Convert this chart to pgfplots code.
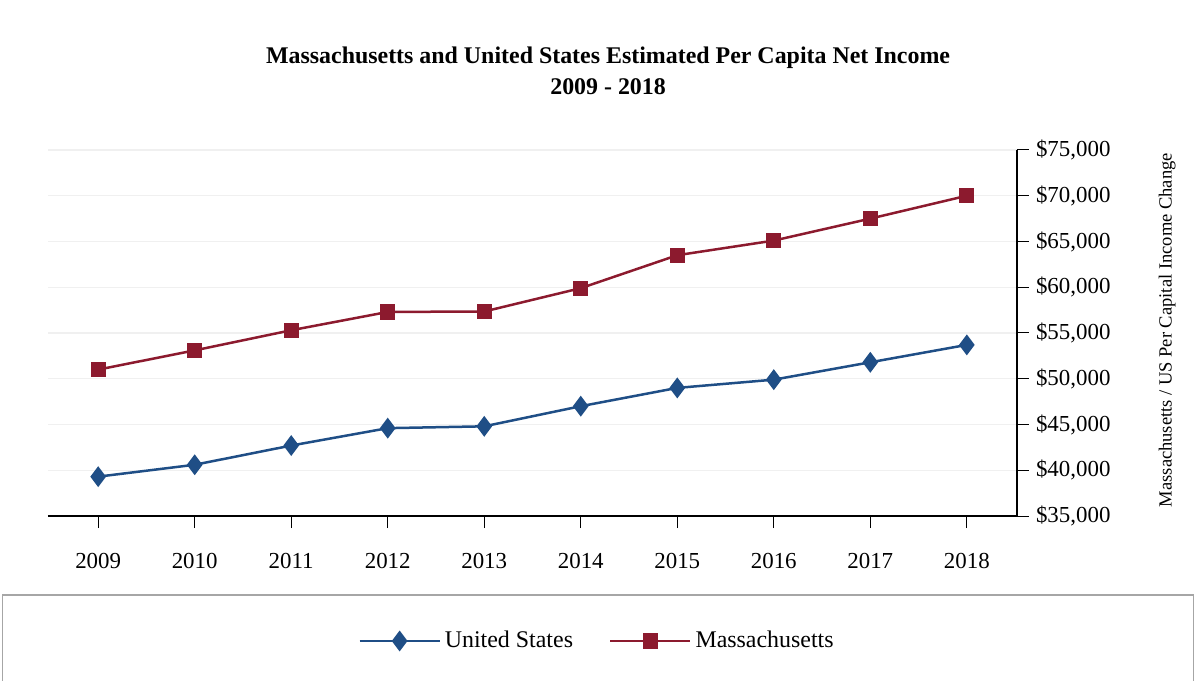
\documentclass[border=0pt]{standalone}
\usepackage{fontspec}
\setmainfont{Liberation Serif}
\usepackage{pgfplots}
\pgfplotsset{compat=1.18}
\usepackage{pgfplotstable}
\definecolor{usblue}{HTML}{1F4E86}
\definecolor{mared}{HTML}{8C1A2E}

% per capita net income
\pgfplotstableread{
year us    ma
2009 39300 51000
2010 40600 53100
2011 42700 55300
2012 44600 57300
2013 44800 57350
2014 47000 59900
2015 49000 63500
2016 49900 65100
2017 51800 67500
2018 53700 70000
}\incometable

\begin{document}
\begin{tikzpicture}
\useasboundingbox (0,0) rectangle (599bp,340.5bp);
\begin{axis}[
    at={(24bp,82.5bp)}, anchor=south west,
    scale only axis, width=484.5bp, height=183bp,
    xmin=2008.48, xmax=2018.52, ymin=35000, ymax=75000,
    xtick={2009,2010,...,2018},
    ytick={35000,40000,...,75000},
    scaled y ticks=false,
    axis x line*=bottom, axis y line*=right,
    x axis line style={-, line width=1.3bp},
    y axis line style={-, line width=0.8bp},
    tick align=outside, major tick length=6bp,
    tick style={black, line width=0.5bp},
    ymajorgrids, grid style={gray!12, line width=0.6bp},
    /pgf/number format/assume math mode=true,
    tick label style={font=\fontsize{11.5}{13}\selectfont},
    x tick label style={/pgf/number format/1000 sep=, yshift=-9bp},
    yticklabel={\$\pgfmathprintnumber{\tick}},
    y tick label style={/pgf/number format/1000 sep={,}},
    title={Massachusetts and United States Estimated Per Capita Net Income\\2009 - 2018},
    title style={at={(axis description cs:0.578,1.184)}, anchor=center, align=center,
        font=\bfseries\fontsize{12}{15.5}\selectfont},
    ylabel={Massachusetts / US Per Capital Income Change},
    ylabel style={at={(axis description cs:1.155,0.508)}, anchor=center,
        font=\fontsize{9.3}{11}\selectfont},
    legend columns=2,
    legend style={at={(axis description cs:0.5676,-0.3415)}, anchor=center,
        draw=gray!70, line width=0.8bp, inner xsep=178bp, inner ysep=16bp,
        font=\fontsize{12}{14}\selectfont,
        /tikz/every even column/.append style={column sep=16bp}},
    legend image code/.code={\draw[mark repeat=2,mark phase=2]
        plot coordinates {(0bp,0bp) (20bp,0bp) (40bp,0bp)};},
]
\addplot[usblue, line width=1.25bp, mark=diamond*, mark size=4.2bp,
    mark options={solid, fill=usblue}] table[x=year, y=us]{\incometable};
\addlegendentry{United States}
\addplot[mared, line width=1.25bp, mark=square*, mark size=3.2bp,
    mark options={solid, fill=mared}] table[x=year, y=ma]{\incometable};
\addlegendentry{Massachusetts}
\end{axis}
\end{tikzpicture}
\end{document}
